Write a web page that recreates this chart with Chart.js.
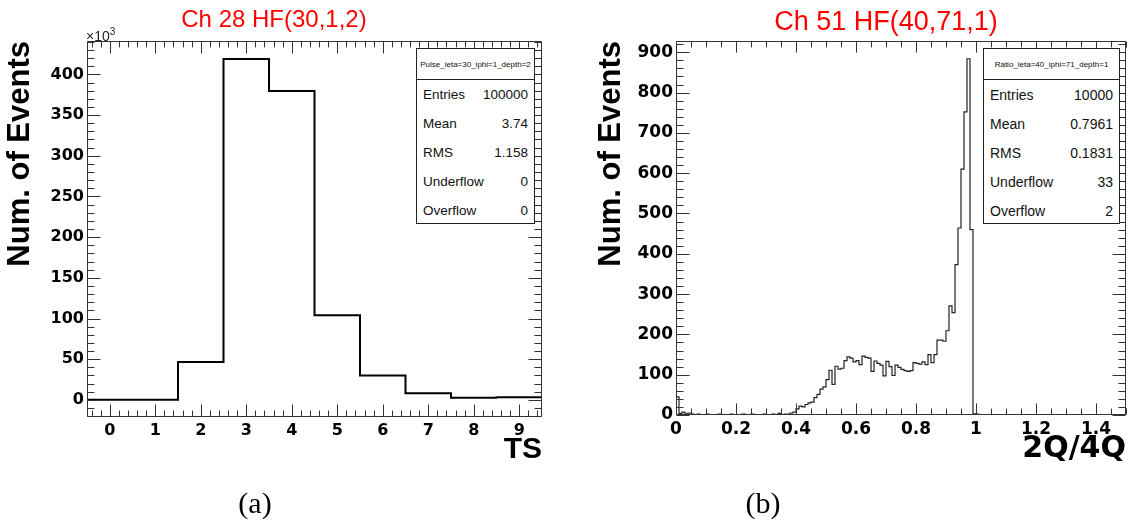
<!DOCTYPE html>
<html>
<head>
<meta charset="utf-8">
<script src="https://cdn.jsdelivr.net/npm/chart.js@4.4.0/dist/chart.umd.min.js"></script>
<style>
  body { margin: 0; background: #fff; }
  #page { position: relative; width: 1129px; height: 526px; overflow: hidden; font-family: "Liberation Sans", Arial, sans-serif; }
  canvas { position: absolute; top: 0; }
  .title { position: absolute; color: #ff0000; white-space: nowrap; transform: translateX(-50%); line-height: 1; }
  .expo { position: absolute; font-size: 14px; line-height: 1; color: #222; }
  .expo sup { font-size: 10px; vertical-align: 6px; }
  .stats { position: absolute; background: #fff; border: 1px solid #222; box-sizing: border-box; color: #111; }
  .stats .head { height: 30px; border-bottom: 1px solid #222; display: flex; align-items: center; justify-content: center; white-space: nowrap; }
  .stats .row { height: 29px; display: flex; justify-content: space-between; align-items: center; padding: 0 6px; }
  .caption { position: absolute; font-family: "Liberation Serif", "Times New Roman", serif; font-size: 30px; line-height: 1; transform: translateX(-50%); }
</style>
</head>
<body>
<div id="page">
  <canvas id="pulseChart" width="560" height="526" style="left:0"></canvas>
  <canvas id="ratioChart" width="569" height="526" style="left:560px"></canvas>

  <div class="title" style="left:274px; top:7px; font-size:24px">Ch 28 HF(30,1,2)</div>
  <div class="title" style="left:886px; top:8px; font-size:27px">Ch 51 HF(40,71,1)</div>
  <div class="expo" style="left:86px; top:27px">&times;10<sup>3</sup></div>

  <div class="stats" id="pulseStats" style="left:416px; top:48px; width:119px; height:176px; font-size:13.5px"></div>
  <div class="stats" id="ratioStats" style="left:983px; top:48px; width:137px; height:176px; font-size:14px"></div>

  <div class="caption" style="left:255px; top:488px">(a)</div>
  <div class="caption" style="left:763px; top:488px">(b)</div>
</div>

<script>
// ================= DATA =================

// (a) pulse shape per time sample, counts in units of 10^3
const tsBins = [0, 1, 2, 3, 4, 5, 6, 7, 8, 9];
const pulseCountsK = [0.3, 0.3, 46.5, 419, 379.5, 104, 30, 8.2, 2.5, 3.3];
const tsTickLabels = ['0', '1', '2', '3', '4', '5', '6', '7', '8', '9'];
const pulseYTicks = [0, 50, 100, 150, 200, 250, 300, 350, 400];

// (b) 2Q/4Q ratio, 150 bins of 0.01 from 0 to 1.5
const ratioBinWidth = 0.01;
const ratioCounts = [
    45, 4, 7, 3, 5, 2, 1, 2, 1, 1,
    2, 1, 0, 1, 2, 1, 0, 1, 2, 1,
    1, 0, 2, 1, 1, 2, 1, 1, 0, 2,
    1, 1, 2, 1, 4, 1, 2, 2, 5, 7,
    15, 22, 20, 26, 30, 32, 43, 51, 64, 70,
    88, 111, 76, 121, 114, 116, 135, 144, 141, 132,
    135, 125, 146, 143, 141, 108, 134, 128, 124, 97,
    133, 120, 98, 124, 118, 113, 110, 108, 110, 130,
    128, 126, 132, 125, 150, 130, 150, 186, 186, 183,
    209, 271, 254, 373, 464, 610, 752, 884, 460, 3,
    2, 0, 0, 0, 0, 0, 0, 0, 0, 0,
    0, 0, 0, 0, 0, 0, 0, 0, 0, 0,
    0, 0, 0, 0, 0, 0, 0, 0, 0, 0,
    0, 0, 0, 0, 0, 0, 0, 0, 0, 0,
    0, 0, 0, 0, 0, 0, 0, 0, 0, 0
];
const ratioXTicks = [0, 0.2, 0.4, 0.6, 0.8, 1, 1.2, 1.4];
const ratioXLabels = ['0', '0.2', '0.4', '0.6', '0.8', '1', '1.2', '1.4'];
const ratioYTicks = [0, 100, 200, 300, 400, 500, 600, 700, 800, 900];

// stat boxes
const statNames = ['Entries', 'Mean', 'RMS', 'Underflow', 'Overflow'];
const pulseStatTitle = 'Pulse_ieta=30_iphi=1_depth=2';
const pulseStatValues = ['100000', '3.74', '1.158', '0', '0'];
const ratioStatTitle = 'Ratio_ieta=40_iphi=71_depth=1';
const ratioStatValues = ['10000', '0.7961', '0.1831', '33', '2'];

// ================= HELPERS =================

// histogram outline: one point per bin low edge, plus the last upper edge
function stepPoints(lowEdges, counts, width) {
    const pts = counts.map((c, i) => ({ x: lowEdges[i], y: c }));
    pts.push({ x: lowEdges[lowEdges.length - 1] + width, y: counts[counts.length - 1] });
    return pts;
}

// ROOT style frame with ticks on all four sides
const rootFrame = {
    id: 'rootFrame',
    afterDatasetsDraw(chart, args, o) {
        const { ctx, chartArea: a } = chart;
        const xs = chart.scales.x, ys = chart.scales.y;
        const L = Math.round(a.left) + 0.5, R = Math.round(a.right) - 0.5;
        const T = Math.round(a.top) + 0.5, B = Math.round(a.bottom) - 0.5;
        ctx.save();
        ctx.strokeStyle = '#333';
        ctx.lineWidth = 1;
        ctx.beginPath();
        ctx.rect(L, T, R - L, B - T);
        const isMajor = (list, v) => list.some(m => Math.abs(m - v) < 1e-6);
        for (let i = 0; ; i++) {
            const v = o.xMinorStart + i * o.xMinor;
            if (v > xs.max + 1e-9) break;
            const len = isMajor(o.xMajor, v) ? o.xMajorLen : o.xMinorLen;
            const px = Math.round(xs.getPixelForValue(v)) + 0.5;
            ctx.moveTo(px, B); ctx.lineTo(px, B - len);
            ctx.moveTo(px, T); ctx.lineTo(px, T + len);
        }
        for (let i = 0; ; i++) {
            const v = o.yMinorStart + i * o.yMinor;
            if (v > ys.max + 1e-9) break;
            const len = isMajor(o.yMajor, v) ? o.yMajorLen : o.yMinorLen;
            const py = Math.round(ys.getPixelForValue(v)) + 0.5;
            ctx.moveTo(L, py); ctx.lineTo(L + len, py);
            ctx.moveTo(R, py); ctx.lineTo(R - len, py);
        }
        ctx.stroke();
        ctx.restore();
    }
};

function makeHist(canvasId, h) {
    return new Chart(document.getElementById(canvasId), {
        type: 'line',
        data: {
            datasets: [{
                data: h.points,
                stepped: true,
                borderColor: h.lineColor,
                borderWidth: h.lineWidth,
                pointRadius: 0,
                fill: false
            }]
        },
        plugins: [rootFrame],
        options: {
            responsive: false,
            animation: false,
            layout: { padding: h.padding },
            plugins: {
                legend: { display: false },
                tooltip: { enabled: false },
                rootFrame: h.frame
            },
            scales: {
                x: {
                    type: 'linear',
                    min: h.xMin, max: h.xMax,
                    grid: { display: false, drawTicks: false },
                    border: { display: false },
                    afterFit: s => { s.height = h.xAxisHeight; },
                    afterBuildTicks: s => { s.ticks = h.xTicks.map(v => ({ value: v })); },
                    ticks: {
                        autoSkip: false, maxRotation: 0, padding: h.xTickPad,
                        color: '#000',
                        font: { family: 'DejaVu Sans', weight: 'bold', size: h.tickSize },
                        callback: (v, i) => h.xLabels[i]
                    },
                    title: {
                        display: true, text: h.xTitle, align: 'end', color: '#000',
                        font: { family: h.xTitleFont, weight: 'bold', size: h.xTitleSize },
                        padding: { top: 0, bottom: h.xTitlePad }
                    }
                },
                y: {
                    min: h.yMin, max: h.yMax,
                    grid: { display: false, drawTicks: false },
                    border: { display: false },
                    afterFit: s => { s.width = h.yAxisWidth; },
                    afterBuildTicks: s => { s.ticks = h.yTicks.map(v => ({ value: v })); },
                    ticks: {
                        autoSkip: false, padding: 3, color: '#000',
                        font: { family: 'DejaVu Sans', weight: 'bold', size: h.tickSize },
                        callback: v => String(v)
                    },
                    title: {
                        display: true, text: 'Num. of Events', align: 'end', color: '#000',
                        font: { family: 'Liberation Sans', weight: 'bold', size: 31 },
                        padding: { top: h.yTitlePad, bottom: 0 }
                    }
                }
            }
        }
    });
}

function fillStats(id, title, values, titleSize) {
    const box = document.getElementById(id);
    box.innerHTML = `<div class="head" style="font-size:${titleSize}px">${title}</div>` +
        statNames.map((n, i) => `<div class="row"><span>${n}</span><span>${values[i]}</span></div>`).join('');
}

// ================= CHARTS =================

makeHist('pulseChart', {
    points: stepPoints(tsBins.map(c => c - 0.5), pulseCountsK, 1),
    lineColor: '#000', lineWidth: 2,
    padding: { top: 41, right: 18, left: 0, bottom: 0 },
    xMin: -0.5, xMax: 9.5, yMin: -21, yMax: 441,
    xTicks: tsBins, xLabels: tsTickLabels, yTicks: pulseYTicks,
    xAxisHeight: 109, yAxisWidth: 87,
    tickSize: 16, xTickPad: 4,
    xTitle: 'TS', xTitleFont: 'Liberation Sans', xTitleSize: 30, xTitlePad: 58,
    yTitlePad: 2,
    frame: {
        xMajor: tsBins, xMinorStart: -0.4, xMinor: 0.2, xMajorLen: 12, xMinorLen: 6,
        yMajor: pulseYTicks, yMinorStart: -20, yMinor: 10, yMajorLen: 13, yMinorLen: 7
    }
});

makeHist('ratioChart', {
    points: stepPoints(ratioCounts.map((c, i) => i * ratioBinWidth), ratioCounts, ratioBinWidth),
    lineColor: '#222', lineWidth: 1.2,
    padding: { top: 41, right: 3, left: 0, bottom: 0 },
    xMin: 0, xMax: 1.5, yMin: 0, yMax: 928,
    xTicks: ratioXTicks, xLabels: ratioXLabels, yTicks: ratioYTicks,
    xAxisHeight: 111, yAxisWidth: 116,
    tickSize: 17, xTickPad: 4,
    xTitle: '2Q/4Q', xTitleFont: 'DejaVu Sans', xTitleSize: 30, xTitlePad: 59,
    yTitlePad: 33,
    frame: {
        xMajor: ratioXTicks, xMinorStart: 0, xMinor: 0.05, xMajorLen: 11, xMinorLen: 6,
        yMajor: ratioYTicks, yMinorStart: 0, yMinor: 20, yMajorLen: 13, yMinorLen: 7
    }
});

fillStats('pulseStats', pulseStatTitle, pulseStatValues, 8);
fillStats('ratioStats', ratioStatTitle, ratioStatValues, 8);
</script>
</body>
</html>
